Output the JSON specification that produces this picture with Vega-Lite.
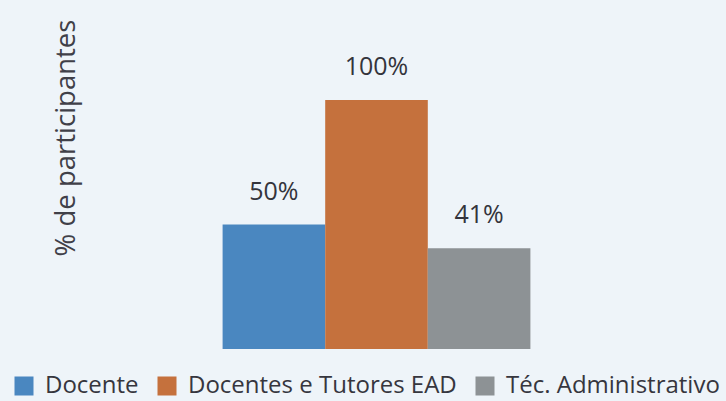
{
  "$schema": "https://vega.github.io/schema/vega-lite/v6.json",
  "autosize": "none",
  "width": 513,
  "height": 249,
  "padding": {"left": 120, "top": 100, "right": 93, "bottom": 52},
  "background": "#eef4f9",
  "config": {"view": {"stroke": null}, "font": "Open Sans"},
  "data": {"values": [
    {"grupo": "Docente", "pct": 50, "label": "50%"},
    {"grupo": "Docentes e Tutores EAD", "pct": 100, "label": "100%"},
    {"grupo": "Téc. Administrativo", "pct": 40.5, "label": "41%"}
  ]},
  "encoding": {
    "x": {"field": "grupo", "type": "nominal", "sort": null,
      "scale": {"paddingInner": 0, "paddingOuter": 1.007},
      "axis": null},
    "y": {"field": "pct", "type": "quantitative",
      "scale": {"domain": [0, 100]},
      "axis": {"title": "% de participantes", "labels": false, "ticks": false, "domain": false, "grid": false,
        "titleFont": "Open Sans", "titleFontSize": 27.5, "titleFontWeight": "normal", "titleColor": "#404048",
        "titleX": -54, "titleY": 37.5, "titleAngle": 270, "titleAlign": "center", "titleBaseline": "middle"}}
  },
  "layer": [
    {"mark": {"type": "bar", "opacity": 1},
     "encoding": {"color": {"field": "grupo", "type": "nominal", "sort": null,
        "scale": {"range": ["#4a87c0", "#c5713d", "#8d9295"]},
        "legend": {"orient": "none", "legendX": -108, "legendY": 274, "direction": "horizontal", "title": null,
          "symbolType": "square", "symbolSize": 361, "symbolStrokeWidth": 0, "symbolOpacity": 1,
          "labelFont": "Open Sans", "labelFontSize": 24, "labelColor": "#36363e", "labelOffset": 9,
          "columnPadding": 16, "padding": 0, "labelLimit": 400}}}},
    {"mark": {"type": "text", "dy": -25, "baseline": "alphabetic", "font": "Open Sans", "fontSize": 25, "color": "#34343c"},
     "encoding": {"text": {"field": "label"}}}
  ]
}
